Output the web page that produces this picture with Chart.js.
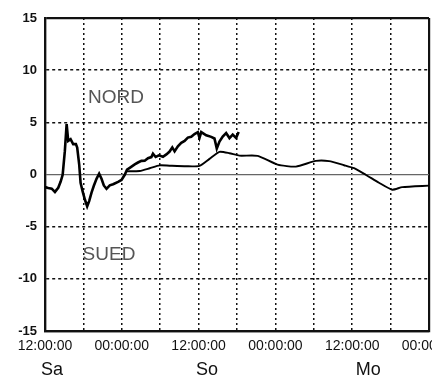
<!DOCTYPE html>
<html>
<head>
<meta charset="utf-8">
<script src="https://cdn.jsdelivr.net/npm/chart.js@4/dist/chart.umd.min.js"></script>
<style>
  html, body { margin: 0; padding: 0; background: #fff; }
  #wrap { width: 432px; height: 385px; }
</style>
</head>
<body>
<div id="wrap"><canvas id="c" width="432" height="385"></canvas></div>
<script>
// x values are hours since Saturday 12:00
const hours1 = [0, 0.5, 1.05, 1.55, 2.07, 2.45, 2.76, 3.1, 3.38, 3.63, 4.0, 4.4, 4.83, 5.03, 5.34,
  5.56, 5.87, 6.23, 6.59, 6.9, 7.27, 7.63, 8.05, 8.46, 8.83, 9.19, 9.61, 10.12, 10.64, 11.42,
  11.95, 12.46, 12.82, 13.24, 14.02, 14.53, 15.06, 15.58, 16.09, 16.62, 16.87, 17.29, 17.8, 18.43, 18.96,
  19.47, 19.89, 20.25, 20.76, 21.29, 21.81, 22.32, 22.85, 23.36, 23.88, 24.14, 24.41, 25.19, 25.97, 26.48,
  26.84, 27.26, 27.77, 28.3, 28.82, 29.33, 29.86, 30.26];
const values1 = [-1.2, -1.3, -1.36, -1.67, -1.27, -0.68, -0.03, 2.24, 4.84, 3.22, 3.39, 2.91, 2.92, 2.59, 0.98,
  -0.8, -1.6, -2.4, -3.05, -2.55, -1.74, -1.08, -0.42, 0.07, -0.41, -1.05, -1.37, -1.04, -0.93, -0.7,
  -0.52, -0.03, 0.47, 0.64, 0.97, 1.15, 1.31, 1.32, 1.56, 1.67, 1.99, 1.68, 1.84, 1.7, 1.93,
  2.2, 2.6, 2.22, 2.71, 3.04, 3.22, 3.54, 3.62, 3.88, 4.06, 3.51, 4.07, 3.76, 3.61, 3.45,
  2.49, 3.15, 3.64, 3.97, 3.49, 3.83, 3.51, 4.07];

const hours2 = [12.7, 14.8, 16.36, 17.91, 19.47, 22.07, 24.14, 25.7, 27.26, 28.82, 30.37, 33.23,
  36.34, 39.2, 42.32, 44.39, 46.73, 48.29, 50.1, 52.18, 54.25, 55.81, 60];
const values2 = [0.3, 0.34, 0.6, 0.88, 0.84, 0.79, 0.83, 1.5, 2.17, 2.04, 1.81, 1.79,
  0.94, 0.76, 1.3, 1.28, 0.89, 0.6, -0.02, -0.79, -1.46, -1.21, -1.07];

const xTickLabels = ['12:00:00', '00:00:00'];   // every 12 h, alternating
const dayLabels = ['Sa', 'So', 'Mo'];
const dayHours = [1.1, 25.3, 50.5];
const regionLabels = ['NORD', 'SUED'];
const regionHours = [11.1, 10];
const regionValues = [7.4, -7.7];

const toPoints = (xs, ys) => xs.map((x, i) => ({ x: x, y: ys[i] }));

Chart.defaults.font.family = '"Liberation Sans", Arial, sans-serif';
Chart.defaults.color = '#111';

const textPlugin = {
  id: 'texts',
  afterDraw(chart) {
    const ctx = chart.ctx;
    const xs = chart.scales.x, ys = chart.scales.y;
    ctx.save();
    ctx.textAlign = 'center';
    ctx.textBaseline = 'middle';
    ctx.fillStyle = '#555';
    ctx.font = '19px "Liberation Sans", Arial, sans-serif';
    regionLabels.forEach((t, i) => {
      ctx.fillText(t, xs.getPixelForValue(regionHours[i]), ys.getPixelForValue(regionValues[i]));
    });
    ctx.fillStyle = '#111';
    ctx.font = '18px "Liberation Sans", Arial, sans-serif';
    dayLabels.forEach((t, i) => {
      ctx.fillText(t, xs.getPixelForValue(dayHours[i]), ys.bottom + 39);
    });
    ctx.restore();
  }
};

const edge = (v, lo, hi) => v === lo || v === hi;

new Chart(document.getElementById('c'), {
  type: 'line',
  data: {
    datasets: [
      {
        data: toPoints(hours1, values1),
        borderColor: '#000',
        borderWidth: 2.6,
        pointRadius: 0,
        tension: 0
      },
      {
        data: toPoints(hours2, values2),
        borderColor: '#000',
        borderWidth: 1.9,
        pointRadius: 0,
        tension: 0.2
      }
    ]
  },
  options: {
    responsive: false,
    animation: false,
    devicePixelRatio: 1,
    layout: { padding: { top: 18, right: 3, left: 0, bottom: 0 } },
    plugins: { legend: { display: false }, tooltip: { enabled: false } },
    scales: {
      x: {
        type: 'linear',
        min: 0,
        max: 60,
        afterFit(s) { s.height = 54; s.paddingLeft = 0; s.paddingRight = 0; },
        ticks: {
          stepSize: 6,
          autoSkip: false,
          maxRotation: 0,
          padding: 7,
          color: '#111',
          font: { size: 14 },
          callback: v => (v % 12 === 0 ? xTickLabels[(v / 12) % 2] : '')
        },
        grid: {
          drawTicks: false,
          color: '#111',
          lineWidth: c => (c.tick && edge(c.tick.value, 0, 60) ? 2.2 : 1.5)
        },
        border: {
          color: '#111',
          width: 2.2,
          dash: c => (c.tick && edge(c.tick.value, 0, 60) ? [] : [2, 3])
        }
      },
      y: {
        min: -15,
        max: 15,
        afterFit(s) { s.width = 45; s.paddingTop = 0; s.paddingBottom = 0; },
        ticks: {
          stepSize: 5,
          padding: 8,
          color: '#111',
          font: { size: 13, weight: 'bold' },
          callback: v => String(v)
        },
        grid: {
          drawTicks: false,
          color: c => (c.tick && c.tick.value === 0 ? '#666' : '#111'),
          lineWidth: c => {
            if (!c.tick) return 1.5;
            if (edge(c.tick.value, -15, 15)) return 2.2;
            return c.tick.value === 0 ? 1.2 : 1.5;
          }
        },
        border: {
          color: '#111',
          width: 2.2,
          dash: c => (c.tick && (c.tick.value === 0 || edge(c.tick.value, -15, 15)) ? [] : [3, 3])
        }
      }
    }
  },
  plugins: [textPlugin]
});
</script>
</body>
</html>
